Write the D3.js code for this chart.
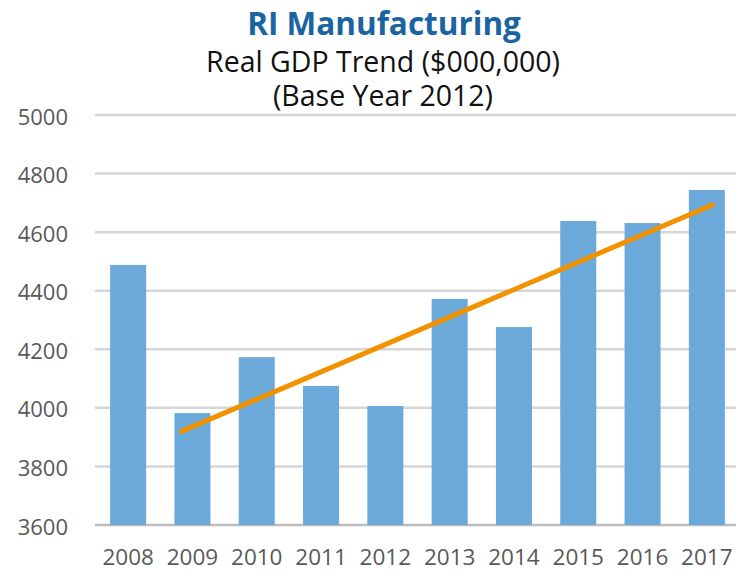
<!DOCTYPE html>
<html>
<head>
<meta charset="utf-8">
<script src="https://cdn.jsdelivr.net/npm/d3@7"></script>
<style>
  body { margin: 0; background: #fff; }
  svg { display: block; }
</style>
</head>
<body>
<div id="chart"></div>
<script>
// Data
const years = ["2008", "2009", "2010", "2011", "2012", "2013", "2014", "2015", "2016", "2017"];
const gdp = [4488, 3982, 4173, 4075, 4006, 4372, 4276, 4638, 4631, 4744];
const yTicks = [3600, 3800, 4000, 4200, 4400, 4600, 4800, 5000];
// trend line end points (year position, value)
const trendYears = [2008.8, 2017.12];
const trendValues = [3917, 4696];
const subtitleLines = ["Real GDP Trend ($000,000)", "(Base Year 2012)"];

const width = 736, height = 573;

const svg = d3.select("#chart")
  .append("svg")
  .attr("width", width)
  .attr("height", height);

const x = d3.scaleBand()
  .domain(years)
  .range([96, 739])
  .paddingInner(0.44)
  .paddingOuter(0.22);

const y = d3.scaleLinear()
  .domain([3600, 5000])
  .range([525, 115]);

// continuous year -> bar center, for the trend line
const xYear = d3.scaleLinear()
  .domain([+years[0], +years[years.length - 1]])
  .range([x(years[0]) + x.bandwidth() / 2, x(years[years.length - 1]) + x.bandwidth() / 2]);

// Titles
svg.append("text")
  .attr("x", 384).attr("y", 35)
  .attr("text-anchor", "middle")
  .attr("font-family", "Open Sans")
  .attr("font-weight", 700)
  .attr("font-size", 31.5)
  .attr("fill", "#1b64a2")
  .text("RI Manufacturing");

svg.append("text")
  .attr("y", 72)
  .attr("text-anchor", "middle")
  .attr("font-family", "Open Sans")
  .attr("font-size", 28.5)
  .attr("fill", "#111")
  .selectAll("tspan")
  .data(subtitleLines)
  .enter().append("tspan")
  .attr("x", 383)
  .attr("dy", (d, i) => i === 0 ? 0 : 34)
  .text(d => d);

// Gridlines
svg.append("g")
  .selectAll("line")
  .data(yTicks)
  .enter().append("line")
  .attr("x1", 95)
  .attr("x2", width)
  .attr("y1", d => y(d))
  .attr("y2", d => y(d))
  .attr("stroke", d => d === 3600 ? "#bdbdbd" : "#d6d6d6")
  .attr("stroke-width", 2.5);

// Y axis labels
const yAxis = d3.axisLeft(y).tickValues(yTicks).tickFormat(d3.format("d")).tickSize(0).tickPadding(0);
svg.append("g")
  .attr("transform", "translate(68,2)")
  .call(yAxis)
  .call(g => g.select(".domain").remove())
  .selectAll("text")
  .attr("font-family", "Open Sans")
  .attr("font-size", 22)
  .attr("fill", "#595959");

// Bars
svg.append("g")
  .selectAll("rect")
  .data(years.map((yr, i) => ({ year: yr, value: gdp[i] })))
  .enter().append("rect")
  .attr("x", d => x(d.year))
  .attr("y", d => y(d.value))
  .attr("width", x.bandwidth())
  .attr("height", d => y(3600) - y(d.value))
  .attr("fill", "#6aa9da");

// X axis labels
const xAxis = d3.axisBottom(x).tickSize(0).tickPadding(0);
svg.append("g")
  .attr("transform", "translate(0,549)")
  .call(xAxis)
  .call(g => g.select(".domain").remove())
  .selectAll("text")
  .attr("font-family", "Open Sans")
  .attr("font-size", 22.5)
  .attr("fill", "#595959");

// Trend line
const line = d3.line()
  .x(d => xYear(d[0]))
  .y(d => y(d[1]));

svg.append("path")
  .datum(trendYears.map((t, i) => [t, trendValues[i]]))
  .attr("d", line)
  .attr("fill", "none")
  .attr("stroke", "#f39200")
  .attr("stroke-width", 5);
</script>
</body>
</html>
